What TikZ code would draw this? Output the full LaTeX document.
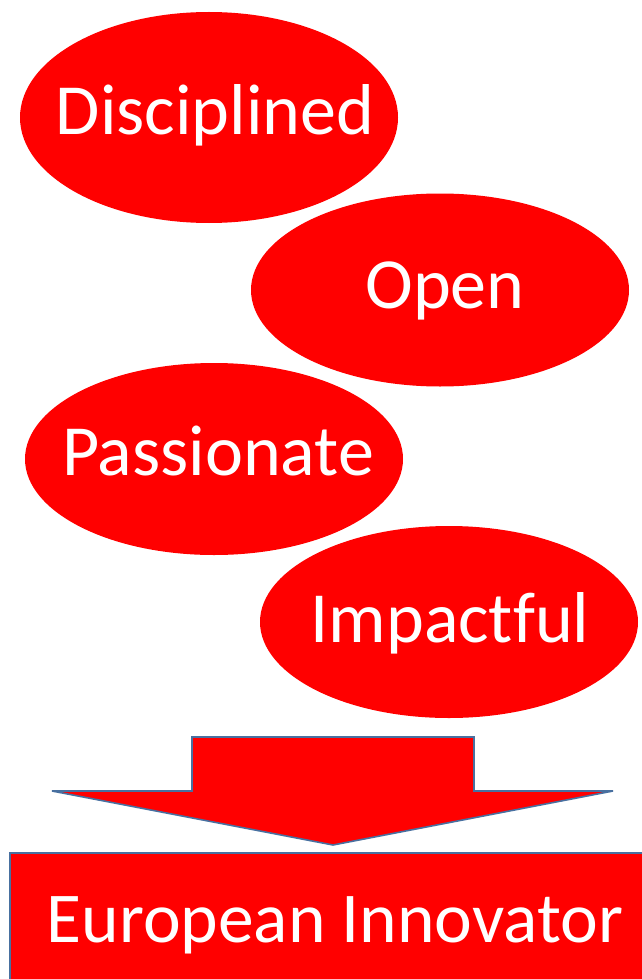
\documentclass[tikz,border=0pt]{standalone}
\usepackage{fontspec}
\setmainfont[Ligatures={NoCommon}]{Carlito}
\usetikzlibrary{shapes.geometric}
\definecolor{pptred}{RGB}{255,0,0}
\definecolor{pptblue}{RGB}{72,112,160}
\tikzset{
  bubble/.style={ellipse, fill=pptred, draw=none, inner sep=0pt,
    minimum width=#1},
  bubbletext/.style={anchor=base, text=white, inner sep=0pt,
    font=\fontsize{72}{78}\selectfont},
  boxtext/.style={anchor=base, text=white, inner sep=0pt,
    font=\fontsize{71.5}{78}\selectfont},
  arrowshape/.style={fill=pptred, draw=pptblue, line width=1.6pt, line join=miter},
}
\begin{document}
\begin{tikzpicture}[x=1pt,y=-1pt]
\useasboundingbox (0,0) rectangle (641,979);
% ellipses
\node[bubble=378pt, minimum height=211pt] (disc) at (209,117.5) {};
\node[bubble=378pt, minimum height=193pt] (open) at (440,290) {};
\node[bubble=378pt, minimum height=192pt] (pass) at (214,459) {};
\node[bubble=378pt, minimum height=192pt] (impa) at (449,622) {};
% texts
\node[bubbletext] (disct) at (215,135) {Disciplined};
\node[bubbletext] (opent) at (445,308) {Open};
\node[bubbletext] (passt) at (218,475) {Passionate};
\node[bubbletext] (impat) at (450,642) {Impactful};
% block arrow
\draw[arrowshape] (192,737) -- (474,737) -- (474,791) -- (613,791)
  -- (333,845) coordinate (tip) -- (52,791) -- (192,791) -- cycle;
% result box
\draw[fill=pptred, draw=pptblue, line width=1.6pt] (10,853) rectangle (660,1000);
\coordinate (boxc) at (335,942);
\node[boxtext] (euro) at (boxc) {European Innovator};
\end{tikzpicture}
\end{document}
